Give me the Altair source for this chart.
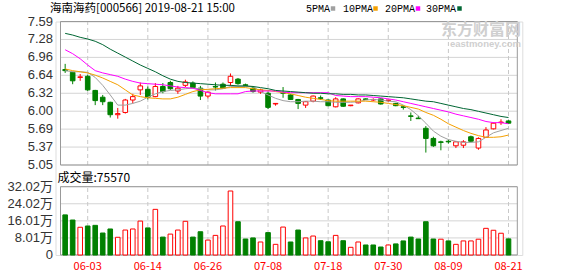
import numpy as np
import pandas as pd
import altair as alt

# ---------------- data ----------------
dates = ["05-29", "05-30", "05-31", "06-03", "06-04", "06-05", "06-06", "06-10", "06-11", "06-12",
         "06-13", "06-14", "06-17", "06-18", "06-19", "06-20", "06-21", "06-24", "06-25", "06-26",
         "06-27", "06-28", "07-01", "07-02", "07-03", "07-04", "07-05", "07-08", "07-09", "07-10",
         "07-11", "07-12", "07-15", "07-16", "07-17", "07-18", "07-19", "07-22", "07-23", "07-24",
         "07-25", "07-26", "07-29", "07-30", "07-31", "08-01", "08-02", "08-05", "08-06", "08-07",
         "08-08", "08-09", "08-12", "08-13", "08-14", "08-15", "08-16", "08-19", "08-20", "08-21"]

opens = [6.74, 6.69, 6.60, 6.62, 6.37, 6.25, 6.16, 5.94, 5.98, 6.20,
         6.38, 6.39, 6.26, 6.44, 6.51, 6.36, 6.46, 6.50, 6.41, 6.27,
         6.44, 6.48, 6.51, 6.57, 6.47, 6.41, 6.34, 6.32, 6.13, 6.33,
         6.29, 6.21, 6.11, 6.18, 6.24, 6.20, 6.08, 6.22, 6.10, 6.15,
         6.22, 6.20, 6.22, 6.19, 6.14, 6.08, 5.92, 5.88, 5.70, 5.52,
         5.46, 5.47, 5.39, 5.40, 5.55, 5.35, 5.54, 5.69, 5.80, 5.83]
highs = [6.84, 6.70, 6.66, 6.65, 6.38, 6.29, 6.17, 6.06, 6.22, 6.31,
         6.51, 6.44, 6.50, 6.50, 6.54, 6.45, 6.56, 6.53, 6.45, 6.35,
         6.51, 6.51, 6.67, 6.59, 6.49, 6.43, 6.40, 6.35, 6.14, 6.43,
         6.30, 6.22, 6.18, 6.28, 6.28, 6.21, 6.25, 6.23, 6.11, 6.23,
         6.23, 6.23, 6.23, 6.20, 6.15, 6.10, 5.98, 5.92, 5.74, 5.55,
         5.48, 5.50, 5.47, 5.49, 5.57, 5.54, 5.72, 5.80, 5.86, 5.84]
lows = [6.68, 6.48, 6.54, 6.36, 6.11, 6.11, 5.89, 5.87, 5.96, 6.14,
        6.29, 6.21, 6.25, 6.32, 6.38, 6.31, 6.43, 6.41, 6.20, 6.23,
        6.37, 6.40, 6.45, 6.47, 6.44, 6.33, 6.31, 6.04, 6.10, 6.24,
        6.20, 6.04, 6.06, 6.16, 6.20, 6.09, 6.07, 6.08, 6.09, 6.14,
        6.20, 6.18, 6.12, 6.16, 6.09, 6.03, 5.83, 5.87, 5.27, 5.37,
        5.31, 5.43, 5.35, 5.35, 5.46, 5.32, 5.53, 5.68, 5.76, 5.78]
closes = [6.72, 6.54, 6.61, 6.38, 6.19, 6.17, 5.94, 5.96, 6.20, 6.26,
          6.45, 6.25, 6.44, 6.35, 6.40, 6.41, 6.52, 6.42, 6.27, 6.34,
          6.43, 6.41, 6.62, 6.49, 6.46, 6.35, 6.38, 6.07, 6.14, 6.32,
          6.21, 6.14, 6.17, 6.27, 6.23, 6.10, 6.22, 6.09, 6.11, 6.22,
          6.21, 6.21, 6.13, 6.20, 6.10, 6.07, 5.91, 5.87, 5.52, 5.39,
          5.45, 5.46, 5.46, 5.46, 5.47, 5.52, 5.67, 5.79, 5.81, 5.79]

# volume in 万 (10,000 lots)
volumes = [18.8, 16.4, 13.0, 13.6, 13.9, 10.3, 12.2, 8.3, 11.7, 12.2,
           15.9, 12.7, 21.4, 8.4, 9.8, 11.7, 15.8, 8.4, 10.9, 7.0,
           9.2, 13.6, 30.0, 15.6, 7.5, 8.0, 6.1, 10.5, 5.0, 13.1,
           6.1, 11.7, 8.0, 8.9, 6.7, 6.2, 9.2, 6.7, 3.6, 6.1,
           4.7, 4.7, 3.75, 4.7, 5.2, 6.6, 8.4, 7.5, 15.6, 7.5,
           7.4, 6.6, 5.0, 6.6, 6.6, 7.4, 12.5, 11.6, 10.2, 7.557]
vol_dir = ["down", "down", "up", "down", "down", "down", "down", "up", "up", "up",
           "up", "down", "up", "down", "up", "up", "up", "down", "down", "up",
           "up", "up", "up", "down", "down", "down", "up", "down", "up", "up",
           "down", "down", "up", "up", "down", "down", "up", "down", "up", "up",
           "down", "down", "down", "up", "down", "down", "down", "down", "down", "down",
           "up", "down", "up", "up", "up", "up", "up", "up", "up", "down"]

ma5 = [6.72, 6.70, 6.70, 6.69, 6.60, 6.46, 6.29, 6.11, 6.11, 6.14,
       6.18, 6.25, 6.31, 6.35, 6.37, 6.38, 6.40, 6.41, 6.40, 6.38,
       6.38, 6.40, 6.44, 6.44, 6.44, 6.44, 6.35, 6.29, 6.23, 6.19,
       6.17, 6.17, 6.18, 6.18, 6.17, 6.17, 6.16, 6.16, 6.16, 6.17,
       6.20, 6.21, 6.20, 6.18, 6.17, 6.11, 6.03, 5.92, 5.79, 5.65,
       5.56, 5.50, 5.47, 5.45, 5.45, 5.46, 5.54, 5.62, 5.66, 5.70]
ma10 = [6.75, 6.72, 6.70, 6.68, 6.64, 6.59, 6.53, 6.47, 6.38, 6.29,
        6.26, 6.24, 6.23, 6.22, 6.22, 6.25, 6.30, 6.35, 6.38, 6.39,
        6.40, 6.41, 6.42, 6.42, 6.42, 6.40, 6.38, 6.37, 6.35, 6.33,
        6.31, 6.28, 6.25, 6.23, 6.21, 6.19, 6.18, 6.18, 6.18, 6.18,
        6.18, 6.17, 6.16, 6.14, 6.12, 6.10, 6.07, 6.04, 5.98, 5.93,
        5.86, 5.78, 5.72, 5.66, 5.61, 5.57, 5.54, 5.54, 5.55, 5.58]
ma20 = [7.09, 7.02, 6.93, 6.82, 6.72, 6.68, 6.65, 6.62, 6.57, 6.53,
        6.50, 6.49, 6.48, 6.47, 6.45, 6.43, 6.42, 6.41, 6.37, 6.33,
        6.31, 6.31, 6.31, 6.31, 6.35, 6.36, 6.36, 6.36, 6.36, 6.34,
        6.33, 6.33, 6.33, 6.33, 6.33, 6.33, 6.28, 6.27, 6.26, 6.26,
        6.26, 6.25, 6.24, 6.22, 6.20, 6.17, 6.14, 6.11, 6.08, 6.05,
        6.02, 5.99, 5.95, 5.92, 5.89, 5.86, 5.82, 5.80, 5.80, 5.78]
ma30 = [7.38, 7.35, 7.31, 7.28, 7.24, 7.18, 7.10, 7.03, 6.96, 6.89,
        6.82, 6.76, 6.70, 6.63, 6.57, 6.53, 6.51, 6.50, 6.49, 6.48,
        6.47, 6.46, 6.46, 6.45, 6.45, 6.44, 6.42, 6.40, 6.37, 6.36,
        6.35, 6.34, 6.33, 6.32, 6.32, 6.31, 6.31, 6.30, 6.30, 6.29,
        6.29, 6.28, 6.27, 6.26, 6.25, 6.24, 6.22, 6.20, 6.18, 6.17,
        6.14, 6.11, 6.08, 6.05, 6.03, 6.00, 5.97, 5.94, 5.91, 5.89]

price_min, price_max = 5.05, 7.59
price_tick_labels = ["5.05", "5.37", "5.69", "6.00", "6.32", "6.64", "6.96", "7.28", "7.59"]
vol_max = 320200
vol_tick_labels = ["0", "8.01万", "16.01万", "24.02万", "32.02万"]
shown_dates = ["06-03", "06-14", "06-26", "07-08", "07-18", "07-30", "08-09", "08-21"]

title_text = "海南海药[000566] 2019-08-21 15:00"
vol_title = "成交量"
ma_names = ["5PMA", "10PMA", "20PMA", "30PMA"]
ma_series = [ma5, ma10, ma20, ma30]
ma_colors = ["#a0a0a0", "#f5a000", "#ff00ff", "#006633"]
watermark_cn = "东方财富网"
watermark_en = "eastmoney.com"

# ---------------- layout ----------------
PAD_L, PAD_T = 55.5, 21.5
PLOT_W, PLOT_H = 466.8, 233.5
PRICE_H = 143.5
VOL_TOP = 165.2
X_DOMAIN = [-0.62, 60.17]
RED, GREEN = "#ff0000", "#008000"
FRAME = "#999999"
GRID = "#d4d4d4"
CJK = "Noto Sans CJK SC"
AXIS_FONT = "Liberation Sans, Noto Sans CJK SC"

n = len(dates)
candles = pd.DataFrame({"i": range(n), "date": dates, "open": opens, "high": highs,
                        "low": lows, "close": closes})
candles["dir"] = np.where(candles["close"] > candles["open"], "up", "down")
candles["blo"] = candles[["open", "close"]].min(axis=1)
candles["bhi"] = candles[["open", "close"]].max(axis=1)

vol_df = pd.DataFrame({"i": range(n), "vol": [v * 10000 for v in volumes], "dir": vol_dir})
ma_df = pd.DataFrame({"i": range(n), **{name: s for name, s in zip(ma_names, ma_series)}})

shown_idx = [dates.index(d) for d in shown_dates]
price_step = (price_max - price_min) / (len(price_tick_labels) - 1)
vol_step = vol_max / (len(vol_tick_labels) - 1)

price_ticks = pd.DataFrame({"v": [price_min + k * price_step for k in range(len(price_tick_labels))],
                            "label": price_tick_labels,
                            "x0": X_DOMAIN[0], "x1": X_DOMAIN[1]})
vol_ticks = pd.DataFrame({"v": [k * vol_step for k in range(len(vol_tick_labels))],
                          "label": vol_tick_labels,
                          "x0": X_DOMAIN[0], "x1": X_DOMAIN[1]})
xlab = pd.DataFrame({"i": shown_idx, "label": shown_dates,
                     "plo": price_min, "phi": price_max, "vlo": 0, "vhi": vol_max})
frames = pd.DataFrame({"x0": [X_DOMAIN[0]], "x1": [X_DOMAIN[1]],
                       "plo": [price_min], "phi": [price_max], "vlo": [0], "vhi": [vol_max]})

x_scale = alt.Scale(domain=X_DOMAIN, nice=False, zero=False)
p_scale = alt.Scale(domain=[price_min, price_max], range=[PRICE_H, 0], nice=False, zero=False)
v_scale = alt.Scale(domain=[0, vol_max], range=[PLOT_H, VOL_TOP], nice=False, zero=False)

dir_fill = alt.Scale(domain=["up", "down"], range=["#ffffff", GREEN])
dir_stroke = alt.Scale(domain=["up", "down"], range=[RED, GREEN])


def X(field="i"):
    return alt.X(f"{field}:Q", scale=x_scale, axis=None, title=None)


def PY(field):
    return alt.Y(f"{field}:Q", scale=p_scale, axis=None, title=None)


def VY(field):
    return alt.Y(f"{field}:Q", scale=v_scale, axis=None, title=None)


layers = []
# horizontal grid lines
layers.append(alt.Chart(price_ticks).mark_rule(color=GRID, strokeWidth=1).encode(
    x=X("x0"), x2="x1:Q", y=PY("v")))
layers.append(alt.Chart(vol_ticks).mark_rule(color=GRID, strokeWidth=1).encode(
    x=X("x0"), x2="x1:Q", y=VY("v")))
# vertical dashed grid lines
layers.append(alt.Chart(xlab).mark_rule(color="#c8c8c8", strokeDash=[4, 3], strokeWidth=1).encode(
    x=X(), y=PY("plo"), y2="phi:Q"))
layers.append(alt.Chart(xlab).mark_rule(color="#c8c8c8", strokeDash=[4, 3], strokeWidth=1).encode(
    x=X(), y=VY("vlo"), y2="vhi:Q"))
# panel frames
layers.append(alt.Chart(frames).mark_rect(fillOpacity=0, stroke=FRAME, strokeWidth=1).encode(
    x=X("x0"), x2="x1:Q", y=PY("plo"), y2="phi:Q"))
layers.append(alt.Chart(frames).mark_rect(fillOpacity=0, stroke=FRAME, strokeWidth=1).encode(
    x=X("x0"), x2="x1:Q", y=VY("vlo"), y2="vhi:Q"))
# tick labels
layers.append(alt.Chart(price_ticks).mark_text(align="right", baseline="middle", font=AXIS_FONT,
                                               fontSize=13, color="#333333").encode(
    x=alt.value(-2.5), y=PY("v"), text="label:N"))
layers.append(alt.Chart(vol_ticks).mark_text(align="right", baseline="middle", font=AXIS_FONT,
                                             fontSize=13, color="#333333").encode(
    x=alt.value(-2.5), y=VY("v"), text="label:N"))
layers.append(alt.Chart(xlab).mark_text(align="center", baseline="middle", font=CJK,
                                        fontSize=11, color=RED).encode(
    x=X(), y=alt.value(266.5 - PAD_T), text="label:N"))
# candles
layers.append(alt.Chart(candles).mark_rule(strokeWidth=1).encode(
    x=X(), y=PY("low"), y2="high:Q",
    stroke=alt.Stroke("dir:N", scale=dir_stroke, legend=None)))
layers.append(alt.Chart(candles).mark_bar(size=4.6, strokeWidth=1).encode(
    x=X(), y=PY("blo"), y2="bhi:Q",
    fill=alt.Fill("dir:N", scale=dir_fill, legend=None),
    stroke=alt.Stroke("dir:N", scale=dir_stroke, legend=None)))
# moving averages
for name, c in zip(ma_names, ma_colors):
    layers.append(alt.Chart(ma_df).mark_line(color=c, strokeWidth=1).encode(x=X(), y=PY(name)))
# volume bars
layers.append(alt.Chart(vol_df).mark_bar(size=4.6, strokeWidth=1).encode(
    x=X(), y=VY("vol"),
    fill=alt.Fill("dir:N", scale=dir_fill, legend=None),
    stroke=alt.Stroke("dir:N", scale=dir_stroke, legend=None)))


# ---------------- header texts ----------------
def text_layer(txt, x, y, size, color="#000000", font=CJK, align="left", weight="normal"):
    return alt.Chart(pd.DataFrame({"t": [txt]})).mark_text(
        align=align, baseline="middle", fontSize=size, font=font, color=color,
        fontWeight=weight).encode(text="t:N", x=alt.value(x), y=alt.value(y))


layers.append(text_layer(title_text, 50 - PAD_L, 8.5 - PAD_T, 11.5))
layers.append(text_layer(f"{vol_title}:{int(round(volumes[-1] * 10000))}",
                         57.5 - PAD_L, 177.5 - PAD_T, 12))
layers.append(text_layer(watermark_cn, 521 - PAD_L, 29.5 - PAD_T, 16, color="#cfcfcf",
                         align="right", weight="bold"))
layers.append(text_layer(watermark_en, 521 - PAD_L, 44 - PAD_T, 9.5, color="#cfcfcf",
                         align="right", font="Liberation Sans", weight="bold"))
legend_text_x = [306, 343, 385, 426]
legend_box_x = [333, 375.5, 418, 459.5]
for name, c, tx, bx in zip(ma_names, ma_colors, legend_text_x, legend_box_x):
    layers.append(text_layer(name, tx - PAD_L, 9 - PAD_T, 10, font="Liberation Mono, " + CJK))
    layers.append(alt.Chart(pd.DataFrame({"t": [name]})).mark_square(
        color=c, size=20, opacity=1).encode(x=alt.value(bx - PAD_L), y=alt.value(8.5 - PAD_T)))

chart = alt.layer(*layers).resolve_scale(y="independent").properties(
    width=PLOT_W, height=PLOT_H,
    autosize=alt.AutoSizeParams(type="none"),
    padding={"left": PAD_L, "top": PAD_T, "right": 578 - PAD_L - PLOT_W,
             "bottom": 276 - PAD_T - PLOT_H},
).configure_view(stroke=None).configure(background="#ffffff")

chart.save("out.html", embed_options={"renderer": "svg", "actions": False})
